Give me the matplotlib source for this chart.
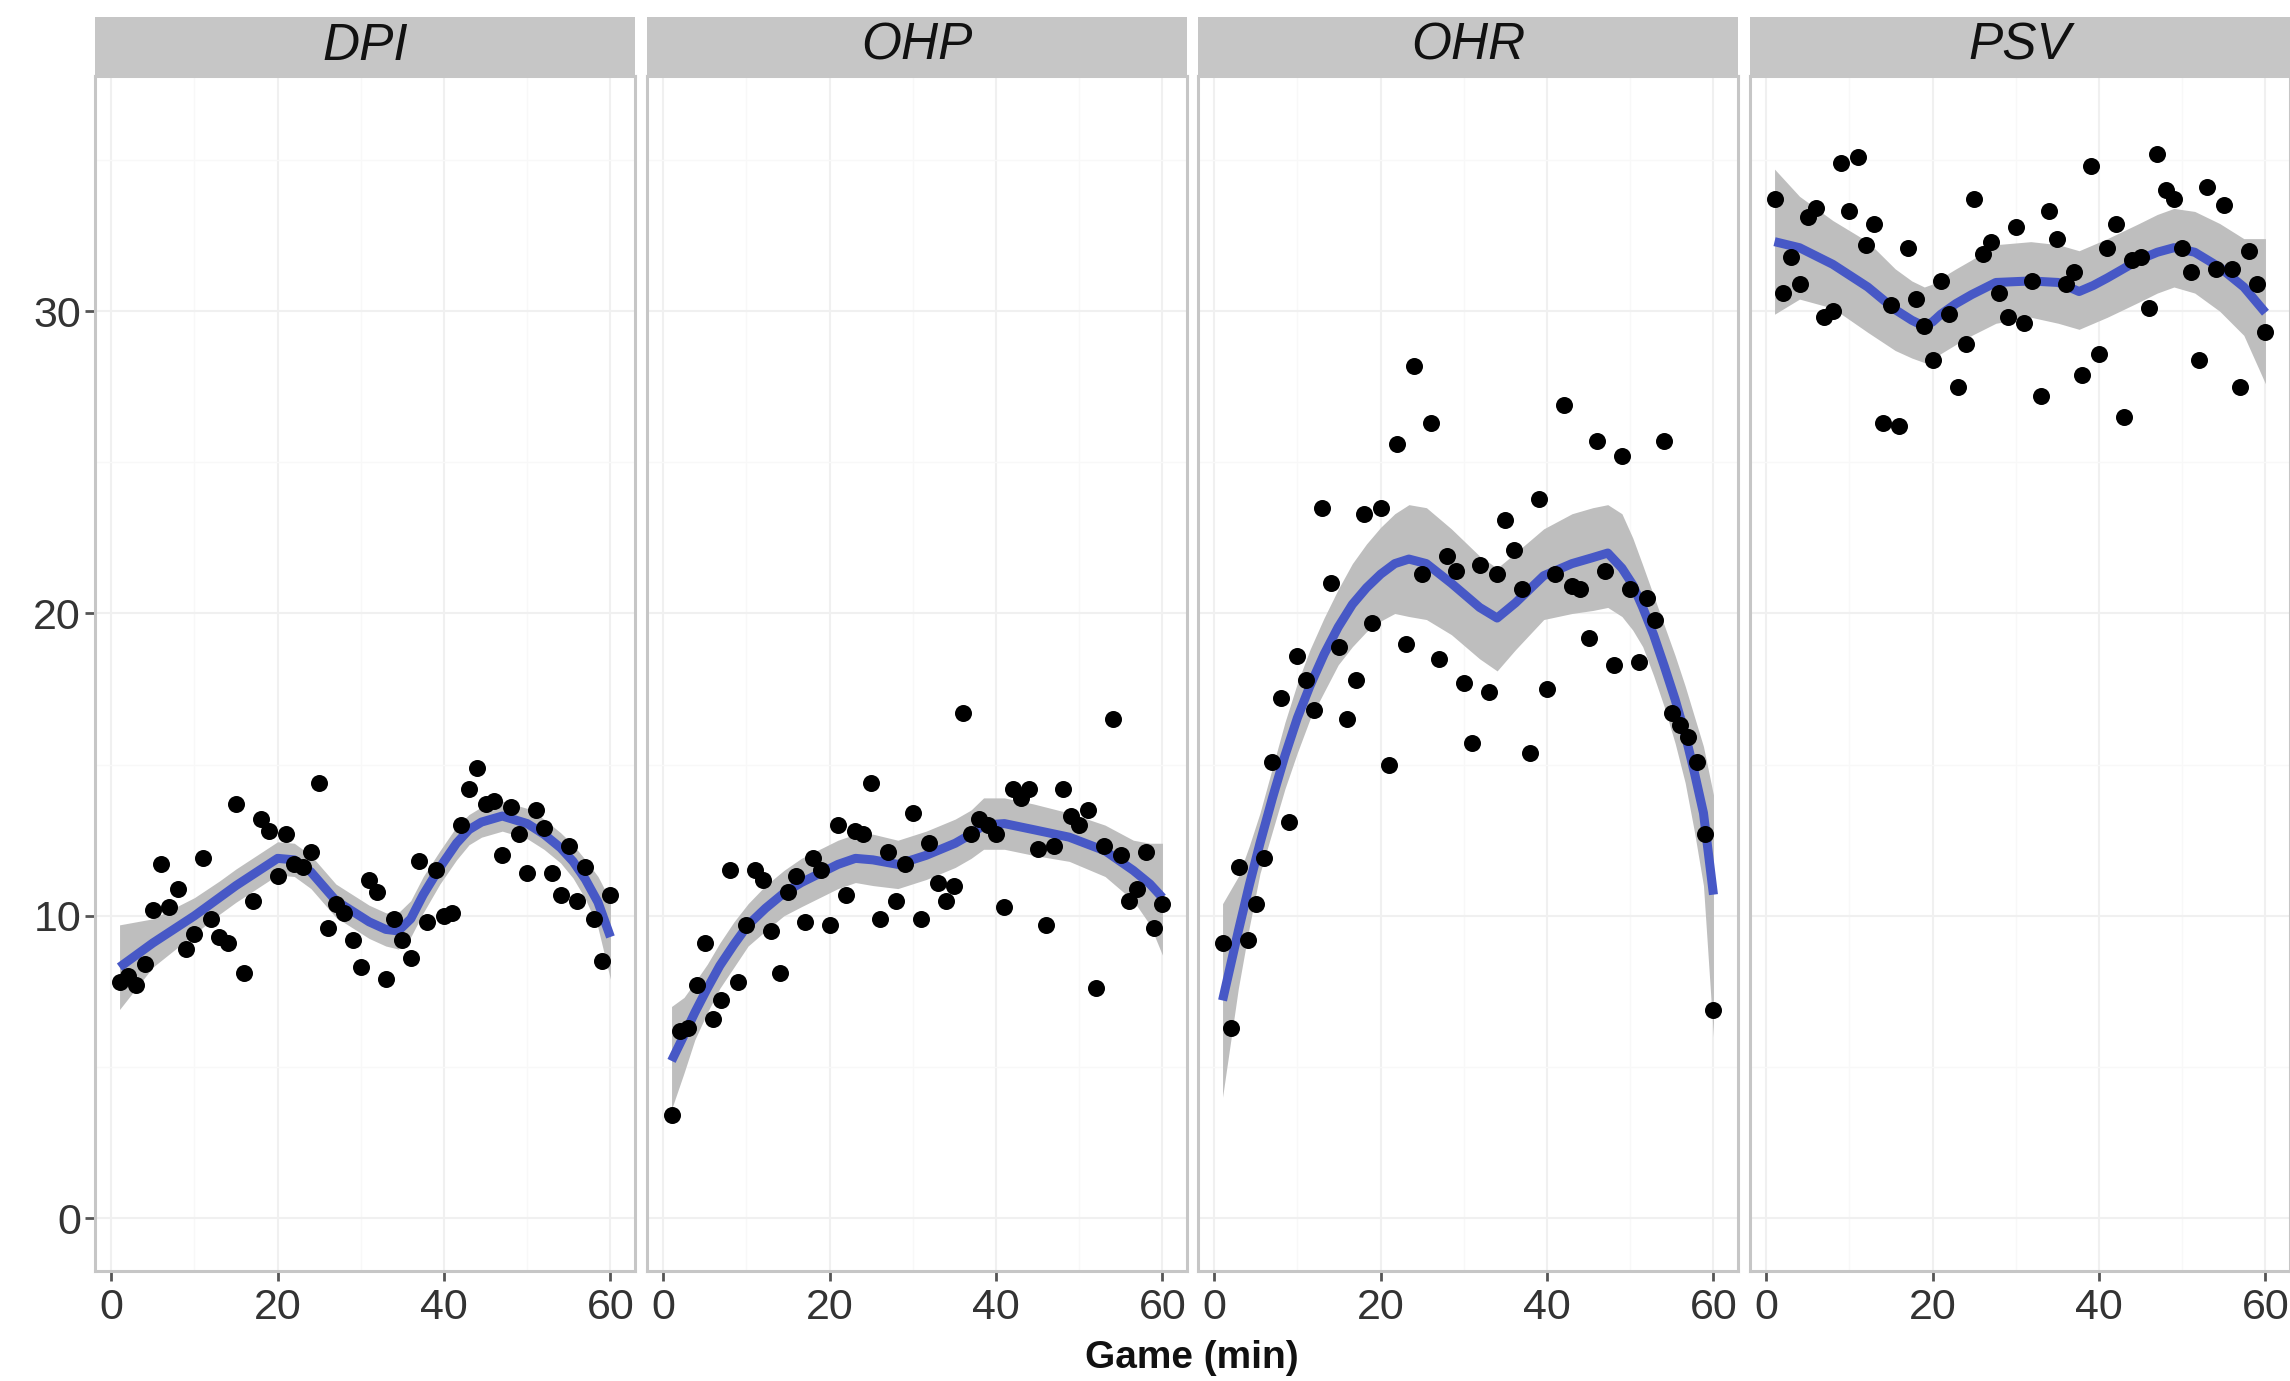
import matplotlib
matplotlib.use("Agg")
import matplotlib.pyplot as plt
from matplotlib.patches import Rectangle

plt.rcParams['font.family'] = ['Liberation Sans', 'DejaVu Sans']

# game minute for every point
minutes = list(range(1, 61))

panels = ["DPI", "OHP", "OHR", "PSV"]

dpi_vals = [7.8, 8.0, 7.7, 8.4, 10.2, 11.7, 10.3, 10.9, 8.9, 9.4,
            11.9, 9.9, 9.3, 9.1, 13.7, 8.1, 10.5, 13.2, 12.8, 11.3,
            12.7, 11.7, 11.6, 12.1, 14.4, 9.6, 10.4, 10.1, 9.2, 8.3,
            11.2, 10.8, 7.9, 9.9, 9.2, 8.6, 11.8, 9.8, 11.5, 10.0,
            10.1, 13.0, 14.2, 14.9, 13.7, 13.8, 12.0, 13.6, 12.7, 11.4,
            13.5, 12.9, 11.4, 10.7, 12.3, 10.5, 11.6, 9.9, 8.5, 10.7]
ohp_vals = [3.4, 6.2, 6.3, 7.7, 9.1, 6.6, 7.2, 11.5, 7.8, 9.7,
            11.5, 11.2, 9.5, 8.1, 10.8, 11.3, 9.8, 11.9, 11.5, 9.7,
            13.0, 10.7, 12.8, 12.7, 14.4, 9.9, 12.1, 10.5, 11.7, 13.4,
            9.9, 12.4, 11.1, 10.5, 11.0, 16.7, 12.7, 13.2, 13.0, 12.7,
            10.3, 14.2, 13.9, 14.2, 12.2, 9.7, 12.3, 14.2, 13.3, 13.0,
            13.5, 7.6, 12.3, 16.5, 12.0, 10.5, 10.9, 12.1, 9.6, 10.4]
ohr_vals = [9.1, 6.3, 11.6, 9.2, 10.4, 11.9, 15.1, 17.2, 13.1, 18.6,
            17.8, 16.8, 23.5, 21.0, 18.9, 16.5, 17.8, 23.3, 19.7, 23.5,
            15.0, 25.6, 19.0, 28.2, 21.3, 26.3, 18.5, 21.9, 21.4, 17.7,
            15.7, 21.6, 17.4, 21.3, 23.1, 22.1, 20.8, 15.4, 23.8, 17.5,
            21.3, 26.9, 20.9, 20.8, 19.2, 25.7, 21.4, 18.3, 25.2, 20.8,
            18.4, 20.5, 19.8, 25.7, 16.7, 16.3, 15.9, 15.1, 12.7, 6.9]
psv_vals = [33.7, 30.6, 31.8, 30.9, 33.1, 33.4, 29.8, 30.0, 34.9, 33.3,
            35.1, 32.2, 32.9, 26.3, 30.2, 26.2, 32.1, 30.4, 29.5, 28.4,
            31.0, 29.9, 27.5, 28.9, 33.7, 31.9, 32.3, 30.6, 29.8, 32.8,
            29.6, 31.0, 27.2, 33.3, 32.4, 30.9, 31.3, 27.9, 34.8, 28.6,
            32.1, 32.9, 26.5, 31.7, 31.8, 30.1, 35.2, 34.0, 33.7, 32.1,
            31.3, 28.4, 34.1, 31.4, 33.5, 31.4, 27.5, 32.0, 30.9, 29.3]

# smoother (loess): x, fit, lower and upper band
dpi_fit_x = [1, 5, 10, 13, 15, 17.5, 20, 22, 24, 27, 31, 33, 34.5, 36, 37.5, 39.5, 41.5, 43, 44.5,
             47, 50, 52, 54, 55.5, 57, 58.5, 60]
dpi_fit = [8.3, 9.1, 10.0, 10.6, 11.0, 11.45, 11.9, 11.85, 11.45, 10.5, 9.8, 9.55, 9.5, 9.9, 10.7,
           11.6, 12.4, 12.85, 13.1, 13.3, 13.05, 12.7, 12.25, 11.8, 11.2, 10.45, 9.3]
dpi_lo = [6.9, 8.3, 9.4, 10.05, 10.45, 10.9, 11.35, 11.3, 10.9, 9.95, 9.25, 9.0, 8.9, 9.3, 10.1,
          11.05, 11.85, 12.35, 12.6, 12.8, 12.55, 12.2, 11.75, 11.25, 10.55, 9.6, 7.9]
dpi_hi = [9.7, 9.9, 10.6, 11.15, 11.55, 12.0, 12.45, 12.4, 12.0, 11.05, 10.35, 10.1, 10.1, 10.5, 11.3,
          12.15, 12.95, 13.35, 13.6, 13.8, 13.55, 13.2, 12.75, 12.35, 11.85, 11.3, 10.5]

ohp_fit_x = [1, 2.5, 3.8, 5.3, 6.8, 8.5, 10.2, 12.3, 14.5, 16.6, 18.8, 21, 23.1, 25.2, 28.2, 31.6,
             35.1, 37, 38.5, 41, 44.5, 48.8, 53.1, 56.5, 58.5, 60]
ohp_fit = [5.2, 6.05, 6.8, 7.6, 8.35, 9.05, 9.7, 10.25, 10.75, 11.1, 11.4, 11.7, 11.9, 11.85, 11.7, 12.0,
           12.4, 12.7, 13.0, 13.05, 12.85, 12.6, 12.15, 11.5, 11.05, 10.6]
ohp_lo = [3.6, 4.8, 5.9, 6.8, 7.6, 8.3, 9.0, 9.5, 10.0, 10.3, 10.6, 10.9, 11.1, 11.0, 10.9, 11.2,
          11.6, 11.9, 12.2, 12.2, 12.0, 11.8, 11.3, 10.5, 9.7, 8.7]
ohp_hi = [7.0, 7.3, 7.8, 8.4, 9.1, 9.8, 10.4, 11.0, 11.5, 11.9, 12.2, 12.5, 12.7, 12.7, 12.5, 12.8,
          13.2, 13.5, 13.9, 13.9, 13.7, 13.4, 13.0, 12.5, 12.4, 12.4]

ohr_fit_x = [1, 2.9, 4.2, 5.5, 7, 8.5, 10, 11.5, 13.2, 14.9, 16.6, 18.3, 20, 21.7, 23.4, 25.5, 28.5,
             31.9, 34, 36.2, 39.6, 43, 45.5, 47.3, 49, 50.3, 51.5, 52.8, 54.1, 55.4, 56.6, 57.7,
             58.8, 60]
ohr_fit = [7.2, 9.5, 11.0, 12.4, 13.9, 15.3, 16.55, 17.6, 18.65, 19.55, 20.3, 20.85, 21.3, 21.65, 21.8,
           21.65, 21.0, 20.2, 19.85, 20.35, 21.25, 21.65, 21.85, 22.0, 21.5, 20.95, 20.2, 19.3, 18.25,
           17.15, 16.0, 14.75, 13.4, 10.7]
ohr_lo = [4.0, 7.6, 9.6, 11.4, 12.8, 14.2, 15.4, 16.5, 17.4, 18.3, 18.9, 19.4, 19.75, 20.0, 19.9,
          19.8, 19.3, 18.5, 18.1, 18.8, 19.8, 20.0, 20.1, 20.2, 19.9, 19.45, 18.9, 17.95, 16.9,
          15.7, 14.4, 12.8, 11.0, 6.0]
ohr_hi = [10.4, 11.3, 12.3, 13.4, 14.9, 16.4, 17.7, 18.8, 19.85, 20.8, 21.65, 22.3, 22.85, 23.3, 23.6,
          23.5, 22.8, 21.9, 21.5, 22.0, 22.8, 23.3, 23.5, 23.6, 23.3, 22.5, 21.6, 20.6, 19.6,
          18.6, 17.6, 16.6, 15.6, 14.0]

psv_fit_x = [1, 4, 8, 12.2, 15.5, 17.5, 19, 20, 21, 22.8, 24.7, 27.6, 31.8, 35.1, 37.6, 39.3, 41,
             44.8, 47, 49, 51.5, 54.5, 57.4, 60]
psv_fit = [32.3, 32.1, 31.55, 30.8, 30.05, 29.7, 29.5, 29.65, 29.9, 30.25, 30.55, 30.95, 31.0, 30.95,
           30.65, 30.85, 31.1, 31.7, 31.95, 32.1, 31.95, 31.45, 30.8, 29.95]
psv_lo = [29.9, 30.4, 30.1, 29.3, 28.7, 28.45, 28.3, 28.4, 28.6, 28.9, 29.2, 29.6, 29.8, 29.6,
          29.4, 29.6, 29.8, 30.3, 30.6, 30.8, 30.6, 30.0, 29.2, 27.6]
psv_hi = [34.7, 33.8, 33.0, 32.3, 31.4, 31.0, 30.8, 30.9, 31.1, 31.4, 31.7, 32.2, 32.3, 32.2,
          32.0, 32.2, 32.4, 32.9, 33.2, 33.4, 33.3, 32.9, 32.4, 32.4]

points = [dpi_vals, ohp_vals, ohr_vals, psv_vals]
smooth = [(dpi_fit_x, dpi_fit, dpi_lo, dpi_hi),
          (ohp_fit_x, ohp_fit, ohp_lo, ohp_hi),
          (ohr_fit_x, ohr_fit, ohr_lo, ohr_hi),
          (psv_fit_x, psv_fit, psv_lo, psv_hi)]

W, H = 2290, 1381
fig = plt.figure(figsize=(W / 100, H / 100), dpi=100)

panel_left = [95, 647, 1198, 1750]
panel_w = 540
panel_top = 76
panel_bot = 1271
strip_h = 59

for i, name in enumerate(panels):
    ax = fig.add_axes([panel_left[i] / W, 1 - panel_bot / H,
                       panel_w / W, (panel_bot - panel_top) / H])
    ax.set_xlim(-1.95, 62.95)
    ax.set_ylim(-1.75, 37.78)

    ax.set_xticks([0, 20, 40, 60])
    ax.set_xticks([10, 30, 50], minor=True)
    ax.set_yticks([0, 10, 20, 30])
    ax.set_yticks([5, 15, 25, 35], minor=True)
    ax.grid(True, which='major', color='#F0F0F0', lw=1.5)
    ax.grid(True, which='minor', color='#F8F8F8', lw=1.0)
    ax.set_axisbelow(True)
    ax.tick_params(which='minor', length=0)
    ax.tick_params(which='major', length=7, width=2, color='#555555',
                   labelsize=31, labelcolor='#333333')
    ax.tick_params(axis='x', pad=5)
    ax.tick_params(axis='y', pad=3)
    if i > 0:
        ax.tick_params(axis='y', left=False, labelleft=False)

    for sp in ax.spines.values():
        sp.set_color('#C6C6C6')
        sp.set_linewidth(2.2)

    fx, fit, lo, hi = smooth[i]
    ax.fill_between(fx, lo, hi, color='#BEBEBE', lw=0, zorder=2)
    ax.plot(fx, fit, color='#4758C6', lw=6.5, solid_capstyle='butt',
            solid_joinstyle='round', zorder=3)
    ax.scatter(minutes, points[i], s=150, color='black', lw=0, zorder=4)

    # facet strip
    sh = strip_h / (panel_bot - panel_top)
    ax.add_patch(Rectangle((0, 1), 1, sh, transform=ax.transAxes,
                           facecolor='#C6C6C6', edgecolor='none', clip_on=False))
    ax.text(0.5, 1 + sh / 2, name, transform=ax.transAxes, ha='center',
            va='center', fontsize=37, style='italic', color='#111111')

fig.text(1192 / W, 1 - 1358 / H, 'Game (min)', ha='center', va='center',
         fontsize=28, fontweight='bold', color='#111111')

fig.savefig('out.png', dpi=100)
